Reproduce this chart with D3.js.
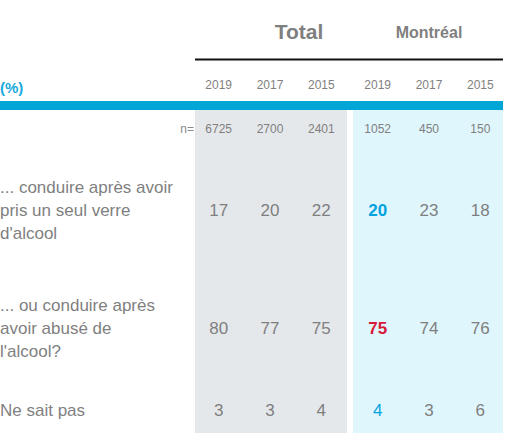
<!DOCTYPE html>
<html>
<head>
<meta charset="utf-8">
<script src="https://cdn.jsdelivr.net/npm/d3@7"></script>
<style>
  body { margin: 0; background: #fff; }
  text { font-family: "Liberation Sans", Arial, sans-serif; }
</style>
</head>
<body>
<script>
var groups = ['Total', 'Montréal'];
var years = ['2019', '2017', '2015', '2019', '2017', '2015'];
var nValues = [6725, 2700, 2401, 1052, 450, 150];
var rowLabels = [
    ['... conduire après avoir', 'pris un seul verre', "d'alcool"],
    ['... ou conduire après', 'avoir abusé de', "l'alcool?"],
    ['Ne sait pas']
];
var rowValues = [
    [17, 20, 22, 20, 23, 18],
    [80, 77, 75, 75, 74, 76],
    [3, 3, 4, 4, 3, 6]
];
// special colour for Montréal 2019 per row
var highlight = [
    {color: '#00a3dd', weight: 'bold'},
    {color: '#d7193a', weight: 'bold'},
    {color: '#00a3dd', weight: 'normal'}
];
var rowY = [210, 328, 410];

var W = 515, H = 437;
var svg = d3.select('body').append('svg').attr('width', W).attr('height', H);

var x = d3.scaleBand().domain(d3.range(6)).range([195, 503]);
var cx = function (i) { return x(i) + x.bandwidth() / 2 + (i >= 3 ? 3 : -2); };

// panels
svg.append('rect').attr('x', 195).attr('y', 110).attr('width', 152).attr('height', 323).attr('fill', '#e5e8eb');
svg.append('rect').attr('x', 353).attr('y', 110).attr('width', 150).attr('height', 323).attr('fill', '#dff6fd');

// group headers
svg.append('text').attr('x', 299).attr('y', 39).attr('text-anchor', 'middle')
   .attr('font-size', 21).attr('font-weight', 'bold').attr('fill', '#7f7f7f').text(groups[0]);
svg.append('text').attr('x', 429).attr('y', 38).attr('text-anchor', 'middle')
   .attr('font-size', 16).attr('font-weight', 'bold').attr('fill', '#7f7f7f').text(groups[1]);
svg.append('line').attr('x1', 195).attr('x2', 503).attr('y1', 59.5).attr('y2', 59.5)
   .attr('stroke', '#111').attr('stroke-width', 2);

// years
svg.selectAll('.yr').data(years).enter().append('text')
   .attr('x', function (d, i) { return cx(i); }).attr('y', 89)
   .attr('text-anchor', 'middle').attr('font-size', 12).attr('fill', '#7f7f7f').text(function (d) { return d; });

svg.append('text').attr('x', 0).attr('y', 93).attr('font-size', 15).attr('font-weight', 'bold')
   .attr('fill', '#1aa9dc').text('(%)');
svg.append('rect').attr('x', 0).attr('y', 101).attr('width', 503).attr('height', 9).attr('fill', '#00a6d6');

// n row
svg.append('text').attr('x', 194).attr('y', 133).attr('text-anchor', 'end')
   .attr('font-size', 12).attr('fill', '#8a8a8a').text('n=');
svg.selectAll('.n').data(nValues).enter().append('text')
   .attr('x', function (d, i) { return cx(i); }).attr('y', 133)
   .attr('text-anchor', 'middle').attr('font-size', 12).attr('fill', '#7f7f7f').text(function (d) { return d; });

// rows
rowValues.forEach(function (vals, r) {
    var lbl = rowLabels[r];
    var top = rowY[r] - (lbl.length - 1) * 23 / 2;
    lbl.forEach(function (line, k) {
        svg.append('text').attr('x', 0).attr('y', top + k * 23 + 6)
           .attr('font-size', 17).attr('fill', '#7f7f7f').text(line);
    });
    svg.selectAll('.v' + r).data(vals).enter().append('text')
       .attr('x', function (d, i) { return cx(i); }).attr('y', rowY[r] + 6)
       .attr('text-anchor', 'middle').attr('font-size', 17)
       .attr('font-weight', function (d, i) { return i === 3 ? highlight[r].weight : 'normal'; })
       .attr('fill', function (d, i) { return i === 3 ? highlight[r].color : '#7f7f7f'; })
       .text(function (d) { return d; });
});
</script>
</body>
</html>
